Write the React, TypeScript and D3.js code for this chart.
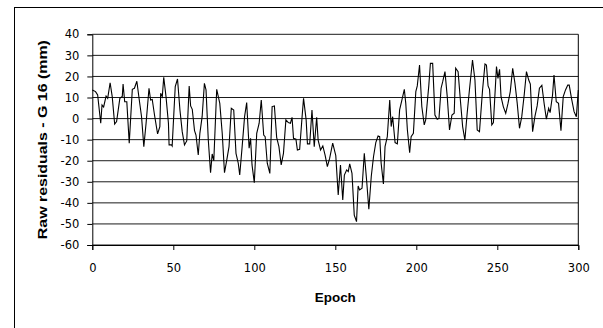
import React, { useEffect, useRef } from "react";
import * as d3 from "d3";

// epoch positions of the traced vertices and the residuals read at each
const epochs = [
  0, 2, 3.3, 5.2, 6, 7, 8.5, 9.5, 11, 12.3,
  13.8, 15, 17, 18.5, 19, 20, 21.3, 22.8, 24.7, 26,
  27.5, 29, 30.4, 31.8, 33.2, 35, 36, 37, 38.4, 40.3,
  41.7, 42.2, 43.2, 44.1, 45.5, 47, 47.4, 48.9, 49.3, 51.2,
  52.6, 54.1, 55.5, 56.9, 58.3, 59.8, 60.7, 61.7, 63.1, 64,
  65.4, 66.4, 67.8, 69.2, 70.2, 71.6, 73, 74, 75, 76.8,
  78.7, 80.2, 81.6, 83, 84.4, 85.8, 87.3, 88.7, 90.1, 91,
  92.5, 94, 95.3, 96.8, 97.7, 98.6, 100, 101.5, 103, 104.3,
  105.8, 106.7, 108, 109.6, 111, 112.4, 113.8, 115.2, 116.6, 118,
  119.5, 121, 122.3, 123.3, 124.2, 125.7, 126.6, 128, 129.5, 130.4,
  132, 132.8, 134.2, 135.6, 137, 138.5, 139.4, 140.9, 142.3, 143.7,
  145.1, 146.5, 148.4, 150.3, 151.8, 153.2, 154.6, 155.6, 157, 158,
  158.9, 160.3, 161.7, 163.1, 164.1, 165, 166.5, 167.9, 169.3, 170.7,
  172.2, 173.6, 175, 176.4, 177.4, 178.3, 179.7, 180.7, 182.1, 183.6,
  184.5, 185.4, 186.9, 188.3, 189.7, 191.1, 192.6, 193.5, 194.5, 195.9,
  196.8, 198.2, 199.7, 200.6, 202, 203.4, 204.9, 205.8, 207.7, 208.7,
  210.1, 211.5, 212.9, 214, 215.3, 216.3, 217.7, 219.1, 220.5, 222,
  223.4, 224.3, 225.8, 227.2, 228.6, 230, 231.4, 232.9, 234.7, 236.2,
  237.6, 239, 240.9, 242.4, 243.3, 244.3, 245.2, 246.6, 247.6, 249.5,
  250.4, 251.4, 252.3, 253.7, 255.2, 256.6, 258, 259.5, 260.9, 262.3,
  263.7, 265.1, 266.6, 268, 269.4, 270.4, 271.8, 273.2, 274.6, 276,
  277.5, 278.9, 280.3, 281.7, 282.6, 284.1, 285, 286.4, 287.8, 289.3,
  290.7, 292.1, 293.5, 294.4, 295.8, 297.4, 298.8, 300,
];

const residuals = [
  13.6, 12.8, 11.2, -2.2, 6.5, 5.5, 10.7, 9.6, 17, 10.4,
  -2.6, -1.4, 9.6, 10.5, 16.4, 8, 8, -11.7, 13.9, 14.4,
  17.7, 8.8, 0.9, -13.3, -2.2, 14.4, 8.8, 9.1, 1.7, -7.3,
  -3.8, 12, 10.4, 19.6, 10.4, -2.2, -12.5, -12.5, -13, 15.2,
  18.8, 4.1, -6.2, -12.5, -10.6, 15.5, 6, 4.4, -5.7, -7.8,
  -17.3, -7, 0.9, 16.7, 13.6, -10.2, -25.7, -16.8, -20, 13.9,
  7.2, -7, -25.7, -19.7, -13.3, 4.9, 4.1, -16.5, -21.2, -26.8,
  -13.3, 0.9, 7.6, -14.1, -9.4, -22, -30.4, -7, -2.2, 8.8,
  -7.8, -8.6, -21.2, -26, 5.7, 6, -8.9, -13.3, -22, -16.5,
  -0.6, -1.9, -2.2, 0.6, -9.4, -9.8, -14.9, -14.6, 0.9, 9.6,
  -0.6, -12, -12, 4.1, -13.3, 0.6, -10.2, -14.9, -13, -17.3,
  -22.8, -18.9, -11.7, -17.6, -36.3, -22, -38.6, -26.8, -24.4, -25.2,
  -21.5, -26, -45.8, -48.9, -32, -33.9, -33.1, -16.5, -29, -43,
  -27.5, -18, -11.4, -8.3, -8.6, -21.2, -31, -13.3, -8.6, 8.8,
  -3.8, 0.9, -11.4, -12, 4.1, 8.8, 13.9, 7.2, -5.4, -16.2,
  -8.6, -7, 12.8, 15.5, 25.4, 5.7, -3, -0.6, 15.5, 26.2,
  26.2, 1.7, -0.3, 0.1, 14.4, 17.5, 22.3, 10.4, -5.4, 1.7,
  2.5, 23.9, 22.3, 8.8, -3.8, -10.2, 2.5, 14.4, 27.8, 18.3,
  -5.4, -6.2, 13.6, 25.9, 25.4, 15.5, 13.9, -3, -1.9, 24.7,
  19.1, 23.4, 10.4, 5.7, 2.5, 7.2, 12.8, 23.9, 16.7, 7.2,
  -4.6, 0.9, 11.2, 22.3, 18.3, 16.4, -6.2, 0.9, 6, 14.4,
  15.8, 7.2, -0.3, 4.9, 2.8, 11.2, 20.7, 8, 7.2, -5.7,
  10.4, 13.6, 15.9, 15.9, 9.6, 3.3, 0.9, 13.6,
];

const xTicks = [0, 50, 100, 150, 200, 250, 300];
const yTicks = [40, 30, 20, 10, 0, -10, -20, -30, -40, -50, -60];

const width = 603;
const height = 328;

const App: React.FC = () => {
  const chartRef = useRef<SVGSVGElement | null>(null);

  useEffect(() => {
    if (!chartRef.current) return;
    const svg = d3.select(chartRef.current);
    svg.selectAll("*").remove();

    const plot = { left: 92.3, right: 578.3, top: 34.3, bottom: 245 };

    const x = d3.scaleLinear().domain([0, 300]).range([plot.left, plot.right]);
    const y = d3.scaleLinear().domain([-60, 40]).range([plot.bottom, plot.top]);

    // outer chart frame (runs off the right / bottom edge)
    svg
      .append("rect")
      .attr("x", 14.5)
      .attr("y", 7.5)
      .attr("width", 620)
      .attr("height", 340)
      .attr("fill", "#fff")
      .attr("stroke", "#000")
      .attr("stroke-width", 1);

    // gridlines
    svg
      .append("g")
      .selectAll("line")
      .data(yTicks)
      .enter()
      .append("line")
      .attr("x1", plot.left)
      .attr("x2", plot.right)
      .attr("y1", (d) => y(d))
      .attr("y2", (d) => y(d))
      .attr("stroke", "#000")
      .attr("stroke-width", 0.9);

    // right border of plot area
    svg
      .append("line")
      .attr("x1", plot.right)
      .attr("x2", plot.right)
      .attr("y1", plot.top)
      .attr("y2", plot.bottom)
      .attr("stroke", "#000");

    const font = "'DejaVu Sans', sans-serif";
    const fmt = (d: d3.NumberValue) => String(d); // plain hyphen minus, as in the original

    // Y axis
    const yAxis = svg
      .append("g")
      .attr("transform", `translate(${plot.left},0)`)
      .call(d3.axisLeft(y).tickValues(yTicks).tickFormat(fmt).tickSize(5).tickPadding(8));
    yAxis.select(".domain").attr("stroke", "#000");
    yAxis.selectAll("line").attr("stroke", "#000");
    yAxis
      .selectAll("text")
      .attr("font-family", font)
      .attr("font-size", 11.5)
      .attr("fill", "#000");

    // X axis
    const xAxis = svg
      .append("g")
      .attr("transform", `translate(0,${plot.bottom})`)
      .call(d3.axisBottom(x).tickValues(xTicks).tickFormat(fmt).tickSize(5).tickPadding(14));
    xAxis.select(".domain").attr("stroke", "#000");
    xAxis.selectAll("line").attr("stroke", "#000");
    xAxis
      .selectAll("text")
      .attr("font-family", font)
      .attr("font-size", 11.5)
      .attr("fill", "#000");

    // series
    const points = epochs.map((e, i) => [e, residuals[i]] as [number, number]);
    const line = d3
      .line<[number, number]>()
      .x((d) => x(d[0]))
      .y((d) => y(d[1]));
    svg
      .append("path")
      .datum(points)
      .attr("d", line)
      .attr("fill", "none")
      .attr("stroke", "#000")
      .attr("stroke-width", 1.1)
      .attr("stroke-linejoin", "miter");

    // axis titles
    svg
      .append("text")
      .attr("x", (plot.left + plot.right) / 2)
      .attr("y", 302)
      .attr("text-anchor", "middle")
      .attr("font-family", "'Liberation Sans', Arial, sans-serif")
      .attr("font-weight", "bold")
      .attr("font-size", 12)
      .attr("textLength", 41)
      .attr("lengthAdjust", "spacingAndGlyphs")
      .text("Epoch");

    svg
      .append("text")
      .attr("transform", `translate(47,${(plot.top + plot.bottom) / 2}) rotate(-90)`)
      .attr("text-anchor", "middle")
      .attr("font-family", "'Liberation Sans', Arial, sans-serif")
      .attr("font-weight", "bold")
      .attr("font-size", 12.5)
      .attr("textLength", 199)
      .attr("lengthAdjust", "spacingAndGlyphs")
      .text("Raw residuals - G 16 (mm)");
  }, []);

  return (
    <div>
      <style>{"body{margin:0}"}</style>
      <svg ref={chartRef} width={width} height={height} style={{ display: "block" }} />
    </div>
  );
};

export default App;
